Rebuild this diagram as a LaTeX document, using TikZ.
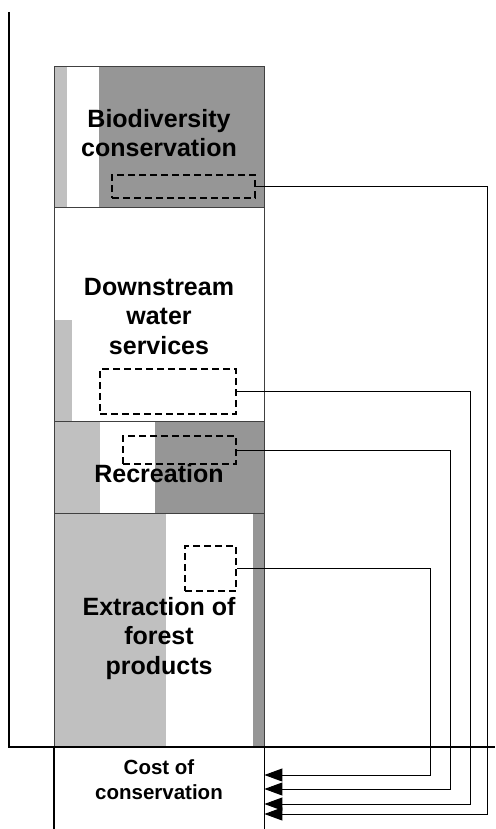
\documentclass[tikz,border=0pt]{standalone}
\usepackage{fontspec}
\setmainfont{Liberation Sans}
\usetikzlibrary{arrows.meta,calc}
\definecolor{lg}{HTML}{C0C0C0}
\definecolor{dg}{HTML}{969696}
\definecolor{edge}{HTML}{404040}
\begin{document}
\begin{tikzpicture}[x=1pt,y=-1pt,
 block/.style={draw=edge, line width=1.3pt, minimum width=210pt, inner sep=0pt, anchor=north west},
 lbl/.style={font=\bfseries\fontsize{25}{29.5}\selectfont, align=center, inner sep=0pt},
 smalllbl/.style={font=\bfseries\fontsize{20.5}{25}\selectfont, align=center, inner sep=0pt},
 dbox/.style={draw=black, line width=2.2pt, dash pattern=on 7pt off 4pt, inner sep=0pt, anchor=north west},
 link/.style={draw=black, line width=1pt, -{Triangle[length=18pt,width=13pt]}},
 axis/.style={draw=black, line width=1.3pt}
]
\clip (0,0) rectangle (495,829);
\path[use as bounding box] (0,0) rectangle (495,829);
% fills
\fill[lg] (54,66) rectangle (67,207);
\fill[dg] (99,66) rectangle (264,207);
\fill[lg] (54,320) rectangle (72,421);
\fill[lg] (54,421) rectangle (100,513);
\fill[dg] (155,421) rectangle (264,513);
\fill[lg] (54,513) rectangle (166,747);
\fill[dg] (253,513) rectangle (264,747);
% blocks
\node[block, minimum height=141pt] (bio) at (54,66) {};
\node[block, minimum height=214pt] (down) at (54,207) {};
\node[block, minimum height=92pt] (rec) at (54,421) {};
\node[block, minimum height=234pt] (ext) at (54,513) {};
% labels (base = baseline of last line)
\node[lbl, anchor=base] (tbio) at (159,157) {Biodiversity\\conservation};
\node[lbl, anchor=base] (tdown) at (159,354) {Downstream\\water\\services};
\node[lbl, anchor=base] (trec) at (159,482) {Recreation};
\node[lbl, anchor=base] (text) at (159,674) {Extraction of\\forest\\products};
% dashed boxes
\node[dbox, minimum width=143pt, minimum height=23pt] (dbio) at (111,174) {};
\node[dbox, minimum width=136pt, minimum height=45pt] (ddown) at (99,368) {};
\node[dbox, minimum width=113pt, minimum height=28pt] (drec) at (122,435) {};
\node[dbox, minimum width=51pt, minimum height=45pt] (dext) at (184,545) {};
% cost box
\node[minimum width=210pt, minimum height=90pt, inner sep=0pt, anchor=north west] (cost) at (54,747) {};
\draw[axis] (cost.north west) -- (cost.south west);
\draw[axis] (cost.north east) -- (cost.south east);
\node[smalllbl, anchor=base] (tcost) at (159,799) {Cost of\\conservation};
% axes
\coordinate (o) at (9,747);
\coordinate (ytop) at (9,12);
\coordinate (xend) at (495,747);
\draw[axis] (ytop) -- (o) -- (xend);
% connectors
\coordinate (r1) at (487,814);
\coordinate (r2) at (470,804);
\coordinate (r3) at (450,789);
\coordinate (r4) at (430,775);
\draw[link] (dbio.east) -| (r1) -- (cost.east |- r1);
\draw[link] (ddown.east) -| (r2) -- (cost.east |- r2);
\draw[link] (drec.east) -| (r3) -- (cost.east |- r3);
\draw[link] (dext.east) -| (r4) -- (cost.east |- r4);
\end{tikzpicture}
\end{document}
